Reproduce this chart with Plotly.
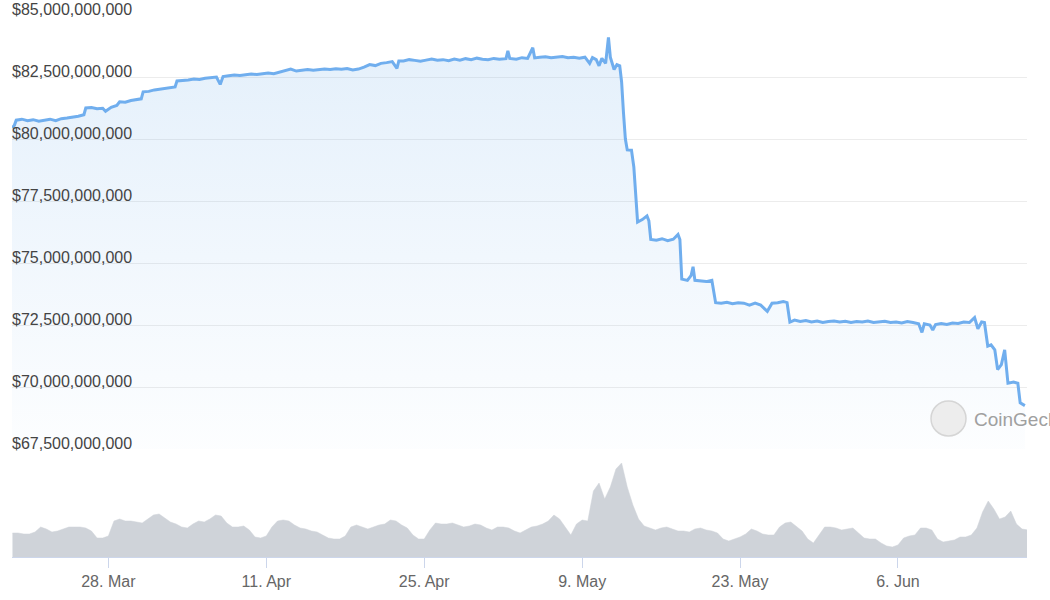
import plotly.graph_objects as go
import pandas as pd

# ---- Market cap (billions USD) ----
mc_dates = [
    "2022-03-19 11:00", "2022-03-19 16:00", "2022-03-19 20:00", "2022-03-20 08:00", "2022-03-20 20:00",
    "2022-03-21 08:00", "2022-03-21 20:00", "2022-03-22 08:00", "2022-03-22 20:00", "2022-03-23 08:00",
    "2022-03-23 20:00", "2022-03-24 08:00", "2022-03-24 20:00", "2022-03-25 08:00", "2022-03-25 20:00",
    "2022-03-26 00:00", "2022-03-26 12:00", "2022-03-27 00:00", "2022-03-27 12:00", "2022-03-27 18:00",
    "2022-03-28 06:00", "2022-03-28 18:00", "2022-03-29 00:00", "2022-03-29 12:00", "2022-03-30 00:00",
    "2022-03-30 12:00", "2022-03-30 22:00", "2022-03-31 02:00", "2022-03-31 14:00", "2022-04-01 02:00",
    "2022-04-01 14:00", "2022-04-02 02:00", "2022-04-02 12:00", "2022-04-02 22:00", "2022-04-03 02:00",
    "2022-04-03 14:00", "2022-04-04 02:00", "2022-04-04 14:00", "2022-04-05 02:00", "2022-04-05 14:00",
    "2022-04-06 02:00", "2022-04-06 14:00", "2022-04-06 22:00", "2022-04-07 04:00", "2022-04-07 16:00",
    "2022-04-08 04:00", "2022-04-08 16:00", "2022-04-09 04:00", "2022-04-09 16:00", "2022-04-10 04:00",
    "2022-04-10 16:00", "2022-04-11 04:00", "2022-04-11 16:00", "2022-04-12 04:00", "2022-04-12 16:00",
    "2022-04-13 04:00", "2022-04-13 16:00", "2022-04-14 04:00", "2022-04-14 16:00", "2022-04-15 04:00",
    "2022-04-15 16:00", "2022-04-16 04:00", "2022-04-16 16:00", "2022-04-17 04:00", "2022-04-17 16:00",
    "2022-04-18 04:00", "2022-04-18 16:00", "2022-04-19 04:00", "2022-04-19 16:00", "2022-04-20 04:00",
    "2022-04-20 16:00", "2022-04-21 04:00", "2022-04-21 16:00", "2022-04-22 04:00", "2022-04-22 14:00",
    "2022-04-22 18:00", "2022-04-23 04:00", "2022-04-23 16:00", "2022-04-24 04:00", "2022-04-24 16:00",
    "2022-04-25 04:00", "2022-04-25 16:00", "2022-04-26 04:00", "2022-04-26 16:00", "2022-04-27 04:00",
    "2022-04-27 16:00", "2022-04-28 04:00", "2022-04-28 16:00", "2022-04-29 04:00", "2022-04-29 16:00",
    "2022-04-30 04:00", "2022-04-30 16:00", "2022-05-01 04:00", "2022-05-01 16:00", "2022-05-02 06:00",
    "2022-05-02 10:00", "2022-05-02 14:00", "2022-05-03 04:00", "2022-05-03 16:00", "2022-05-04 04:00",
    "2022-05-04 15:00", "2022-05-04 19:00", "2022-05-05 06:00", "2022-05-05 18:00", "2022-05-06 06:00",
    "2022-05-06 18:00", "2022-05-07 06:00", "2022-05-07 18:00", "2022-05-08 06:00", "2022-05-08 18:00",
    "2022-05-09 06:00", "2022-05-09 16:00", "2022-05-09 22:00", "2022-05-10 06:00", "2022-05-10 12:00",
    "2022-05-10 18:00", "2022-05-11 02:00", "2022-05-11 08:00", "2022-05-11 12:00", "2022-05-11 20:00",
    "2022-05-12 02:00", "2022-05-12 08:00", "2022-05-12 12:00", "2022-05-12 16:00", "2022-05-12 20:00",
    "2022-05-13 00:00", "2022-05-13 09:00", "2022-05-13 14:00", "2022-05-13 18:00", "2022-05-13 22:00",
    "2022-05-14 08:00", "2022-05-14 18:00", "2022-05-14 22:00", "2022-05-15 02:00", "2022-05-15 14:00",
    "2022-05-16 02:00", "2022-05-16 14:00", "2022-05-17 02:00", "2022-05-17 12:00", "2022-05-17 16:00",
    "2022-05-17 20:00", "2022-05-18 08:00", "2022-05-18 16:00", "2022-05-18 20:00", "2022-05-19 00:00",
    "2022-05-19 12:00", "2022-05-20 00:00", "2022-05-20 12:00", "2022-05-20 20:00", "2022-05-21 08:00",
    "2022-05-21 20:00", "2022-05-22 08:00", "2022-05-22 20:00", "2022-05-23 08:00", "2022-05-23 20:00",
    "2022-05-24 08:00", "2022-05-24 20:00", "2022-05-25 10:00", "2022-05-25 20:00", "2022-05-26 08:00",
    "2022-05-26 20:00", "2022-05-27 04:00", "2022-05-27 10:00", "2022-05-27 20:00", "2022-05-28 08:00",
    "2022-05-28 20:00", "2022-05-29 08:00", "2022-05-29 20:00", "2022-05-30 08:00", "2022-05-30 20:00",
    "2022-05-31 08:00", "2022-05-31 20:00", "2022-06-01 08:00", "2022-06-01 20:00", "2022-06-02 08:00",
    "2022-06-02 20:00", "2022-06-03 08:00", "2022-06-03 20:00", "2022-06-04 08:00", "2022-06-04 20:00",
    "2022-06-05 08:00", "2022-06-05 20:00", "2022-06-06 08:00", "2022-06-06 20:00", "2022-06-07 08:00",
    "2022-06-07 20:00", "2022-06-08 03:00", "2022-06-08 08:00", "2022-06-08 20:00", "2022-06-09 02:00",
    "2022-06-09 08:00", "2022-06-09 20:00", "2022-06-10 08:00", "2022-06-10 20:00", "2022-06-11 08:00",
    "2022-06-11 20:00", "2022-06-12 08:00", "2022-06-12 19:00", "2022-06-13 02:00", "2022-06-13 10:00",
    "2022-06-13 16:00", "2022-06-13 23:00", "2022-06-14 06:00", "2022-06-14 14:00", "2022-06-14 20:00",
    "2022-06-15 04:00", "2022-06-15 11:00", "2022-06-15 14:00", "2022-06-15 18:00", "2022-06-16 06:00",
    "2022-06-16 15:00", "2022-06-16 20:00", "2022-06-17 06:00",
]
mc_values_b = [
    80.45, 80.55, 80.76, 80.80, 80.74,
    80.78, 80.72, 80.77, 80.80, 80.74,
    80.82, 80.85, 80.88, 80.92, 80.98,
    81.25, 81.27, 81.22, 81.24, 81.12,
    81.28, 81.35, 81.50, 81.48, 81.55,
    81.58, 81.62, 81.90, 81.92, 81.98,
    82.02, 82.05, 82.08, 82.10, 82.34,
    82.35, 82.38, 82.42, 82.40, 82.45,
    82.48, 82.50, 82.20, 82.52, 82.55,
    82.58, 82.56, 82.60, 82.62, 82.60,
    82.64, 82.66, 82.63, 82.70, 82.75,
    82.82, 82.74, 82.78, 82.80, 82.77,
    82.80, 82.82, 82.80, 82.83, 82.81,
    82.84, 82.78, 82.82, 82.90, 83.00,
    82.96, 83.05, 83.08, 83.12, 82.85,
    83.15, 83.15, 83.20, 83.17, 83.14,
    83.18, 83.22, 83.18, 83.20, 83.16,
    83.22, 83.18, 83.24, 83.20, 83.26,
    83.22, 83.20, 83.25, 83.22, 83.24,
    83.55, 83.25, 83.22, 83.28, 83.25,
    83.68, 83.27, 83.30, 83.32, 83.28,
    83.30, 83.33, 83.28, 83.30, 83.26,
    83.30, 83.05, 83.28, 83.20, 82.95,
    83.25, 83.05, 84.10, 83.30, 82.80,
    83.00, 82.95, 82.30, 81.05, 80.00,
    79.56, 79.55, 78.87, 77.80, 76.65,
    76.75, 76.90, 76.70, 75.95, 75.92,
    75.98, 75.90, 75.96, 76.15, 75.95,
    74.35, 74.30, 74.50, 74.85, 74.30,
    74.28, 74.25, 74.30, 73.40, 73.38,
    73.42, 73.36, 73.40, 73.38, 73.30,
    73.38, 73.30, 73.05, 73.38, 73.40,
    73.45, 73.40, 72.62, 72.70, 72.64,
    72.68, 72.62, 72.66, 72.60, 72.64,
    72.66, 72.62, 72.65, 72.60, 72.64,
    72.62, 72.66, 72.60, 72.63, 72.65,
    72.60, 72.62, 72.58, 72.64, 72.60,
    72.55, 72.20, 72.55, 72.50, 72.30,
    72.52, 72.56, 72.52, 72.58, 72.56,
    72.62, 72.60, 72.80, 72.35, 72.62,
    72.60, 71.65, 71.70, 71.50, 70.70,
    70.90, 71.50, 70.80, 70.15, 70.20,
    70.15, 69.36, 69.25,
]

# ---- Volume (relative units), every 12 hours from 19 Mar 12:00 ----
vol_start = "2022-03-19 12:00"
vol_values = [
    24,
    24, 23, 23, 25, 30, 28, 25, 26, 28, 30, 30, 30, 29, 26, 19, 19,
    21, 36, 38, 36, 36, 35, 34, 38, 42, 43, 39, 35, 33, 30, 29, 33,
    36, 35, 38, 42, 41, 34, 30, 30, 31, 27, 20, 19, 21, 30, 36, 37,
    36, 32, 29, 28, 26, 25, 22, 19, 18, 18, 21, 30, 32, 30, 28, 30,
    32, 33, 37, 36, 32, 29, 22, 18, 18, 27, 34, 33, 33, 34, 32, 30,
    31, 33, 32, 29, 27, 30, 30, 29, 26, 24, 27, 30, 31, 33, 36, 42,
    38, 30, 22, 33, 37, 36, 66, 74, 58, 70, 88, 94, 70, 52, 38, 31,
    29, 27, 29, 30, 28, 26, 26, 25, 28, 29, 27, 26, 24, 18, 16, 18,
    20, 23, 28, 26, 23, 22, 22, 30, 34, 35, 30, 26, 18, 14, 22, 30,
    30, 29, 27, 28, 29, 24, 19, 18, 18, 14, 11, 10, 12, 19, 21, 22,
    29, 29, 27, 18, 15, 16, 17, 20, 20, 22, 29, 45, 56, 48, 38, 40,
    46, 33, 28, 27,
]

# ---- Axis ticks ----
price_ticks_b = [67.5, 70, 72.5, 75, 77.5, 80, 82.5, 85]
date_ticks = ["2022-03-28", "2022-04-11", "2022-04-25", "2022-05-09", "2022-05-23", "2022-06-06"]

mc_x = pd.to_datetime(mc_dates)
mc_y = [v * 1e9 for v in mc_values_b]
vol_x = pd.date_range(vol_start, periods=len(vol_values), freq="12h")

LINE = "#70aeee"

fig = go.Figure()
fig.add_trace(go.Scatter(
    x=mc_x, y=mc_y, mode="lines",
    line=dict(color=LINE, width=3),
    fill="tozeroy",
    fillgradient=dict(type="vertical", start=67.5e9, stop=83.5e9,
                      colorscale=[[0, "rgba(124,181,236,0.02)"], [1, "rgba(124,181,236,0.20)"]]),
    xaxis="x", yaxis="y", hoverinfo="skip", showlegend=False,
))
fig.add_trace(go.Scatter(
    x=vol_x, y=vol_values, mode="lines",
    line=dict(color="#cfd3d9", width=0.5),
    fill="tozeroy", fillcolor="#cfd3d9",
    xaxis="x", yaxis="y2", hoverinfo="skip", showlegend=False,
))

W, H = 1050, 600
L, R, T, B = 12, 23, 15, 43
plot_h = H - T - B
price_bottom_px = 449   # pixel y of 67.5B gridline
vol_top_px = 457        # pixel y of volume axis max

fig.update_layout(
    width=W, height=H,
    margin=dict(l=L, r=R, t=T, b=B, pad=0, autoexpand=False),
    paper_bgcolor="white", plot_bgcolor="white",
    font=dict(family="Liberation Sans, Arial, sans-serif"),
    xaxis=dict(
        type="date",
        range=["2022-03-19 11:00", "2022-06-17 10:30"],
        anchor="y2", automargin=False,
        tickvals=date_ticks, tickformat="%-d. %b",
        ticks="outside", ticklen=10, tickcolor="#ccd6eb", tickwidth=1,
        showline=True, linecolor="#ccd6eb", linewidth=1,
        showgrid=False, zeroline=False,
        tickfont=dict(size=16, color="#666666"),
    ),
    yaxis=dict(
        domain=[(H - B - price_bottom_px) / plot_h, 1],
        range=[67.5e9, 85e9], automargin=False,
        tickvals=[v * 1e9 for v in price_ticks_b],
        tickformat="$,.0f",
        ticklabelposition="inside top",
        ticklabeloverflow="allow",
        ticklabelstandoff=-3,
        ticklabelshift=6,
        showgrid=True, gridcolor="#ececec", gridwidth=1,
        zeroline=False, showline=False, ticks="",
        tickfont=dict(size=16, color="#444444"),
    ),
    yaxis2=dict(
        domain=[0, (H - B - vol_top_px) / plot_h],
        range=[0, 100], visible=False, showgrid=False, zeroline=False,
    ),
)

# CoinGecko watermark
fig.add_shape(type="circle", xref="paper", yref="paper",
              x0=(931 - L) / (W - L - R), x1=(966 - L) / (W - L - R),
              y0=(H - B - 436) / plot_h, y1=(H - B - 401) / plot_h,
              fillcolor="#ededed", line=dict(color="#d5d5d5", width=1.5), layer="above")
fig.add_annotation(text="CoinGecko", xref="paper", yref="paper",
                   x=(972 - L) / (W - L - R), y=(H - B - 419) / plot_h,
                   xanchor="left", yanchor="middle", showarrow=False,
                   font=dict(size=19, color="#a0a0a0", family="Liberation Sans, Arial, sans-serif"))

fig.write_html("out.html", config={"displayModeBar": False},
               post_script="document.body.style.margin='0';")
